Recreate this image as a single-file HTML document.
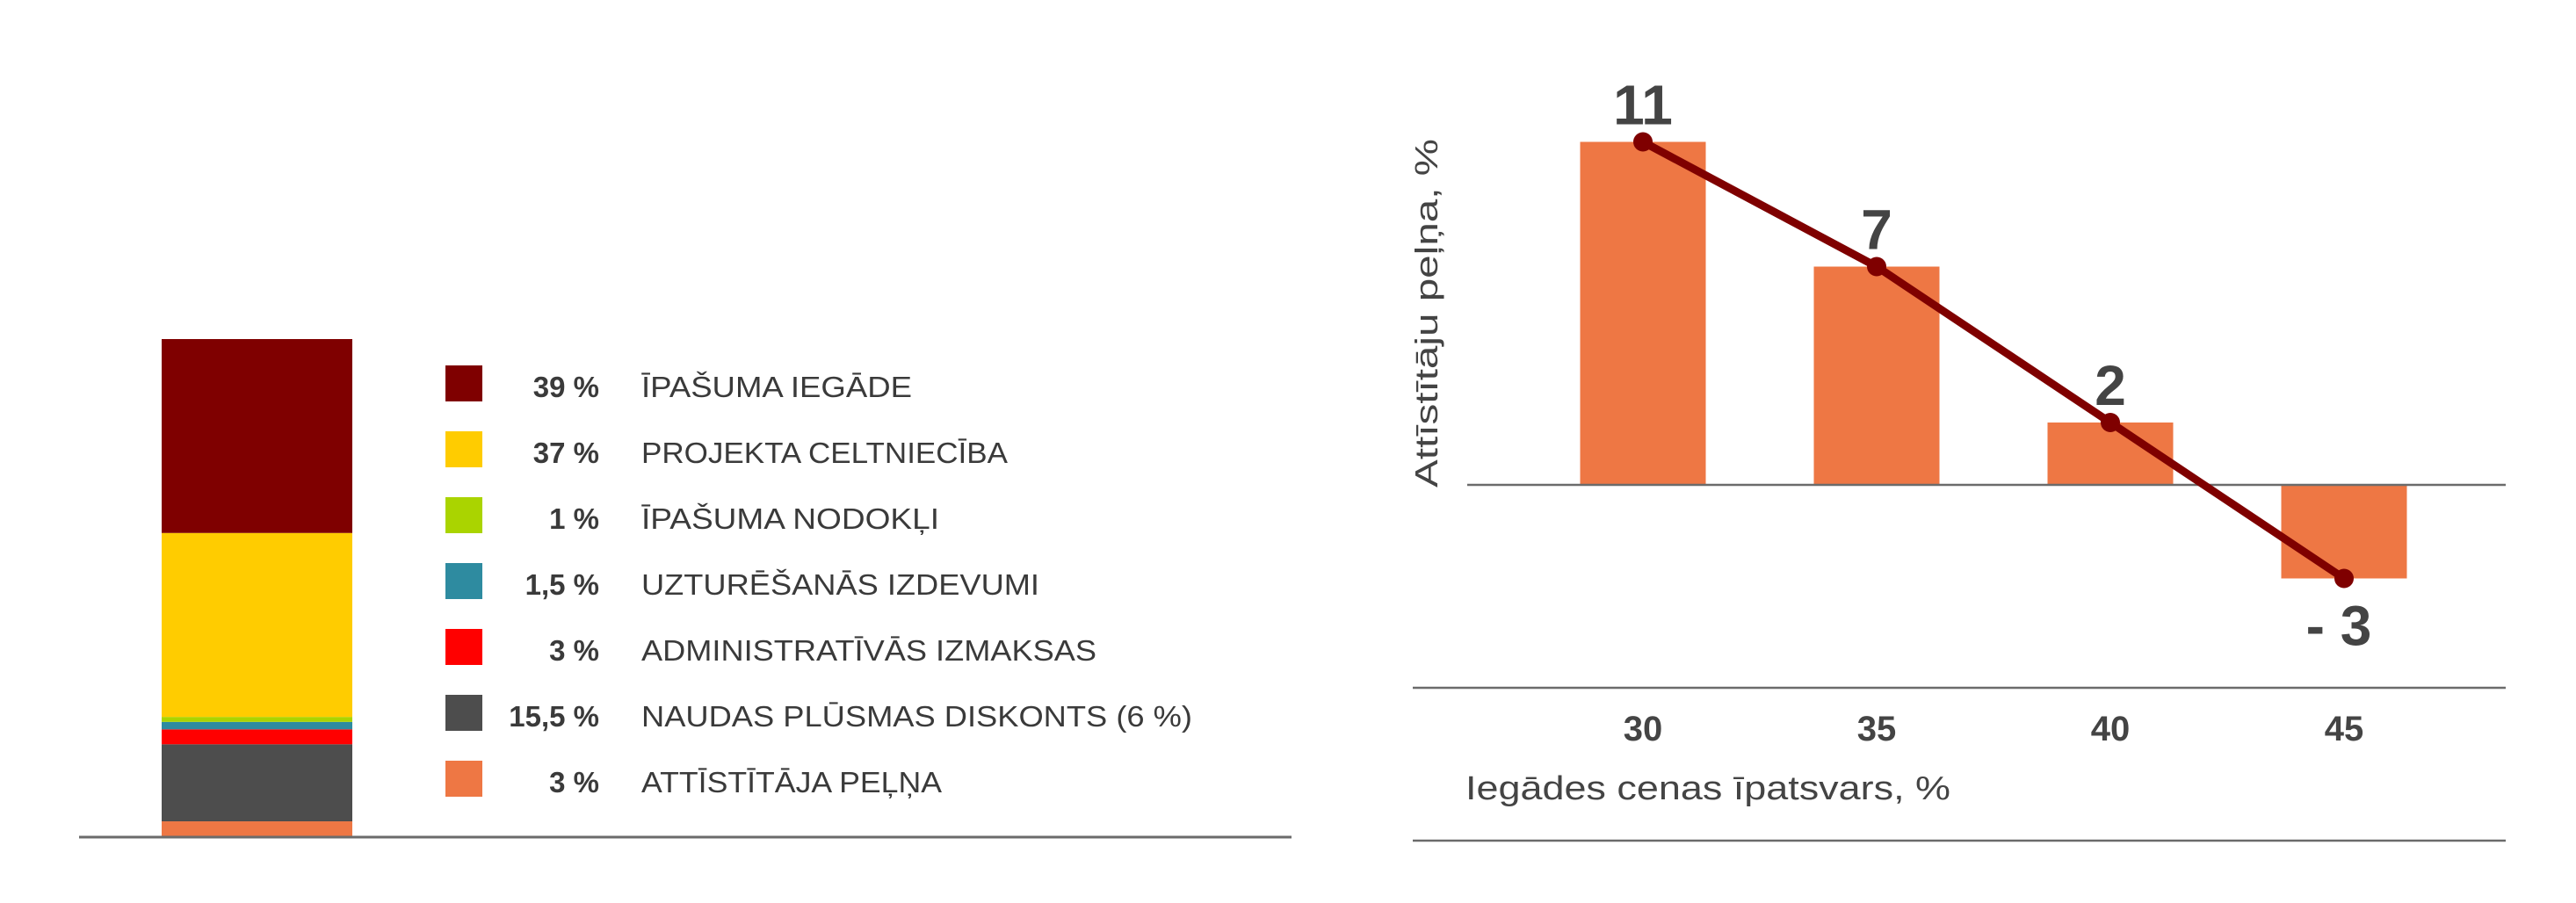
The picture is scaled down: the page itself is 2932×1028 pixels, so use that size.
<!DOCTYPE html>
<html><head><meta charset="utf-8"><style>
html,body{margin:0;padding:0;background:#fff;width:2932px;height:1028px;overflow:hidden}
svg{display:block;font-family:"Liberation Sans",sans-serif}
</style></head><body>
<svg id="c" width="2932" height="1028" viewBox="0 0 2932 1028" xmlns="http://www.w3.org/2000/svg">
<g id="left"></g>
<g id="right"></g>
</svg>
<script>
// Left stacked bar data
const costShares = [39, 37, 1, 1.5, 3, 15.5, 3];
const costPctLabels = ["39 %", "37 %", "1 %", "1,5 %", "3 %", "15,5 %", "3 %"];
const costNames = ["ĪPAŠUMA IEGĀDE", "PROJEKTA CELTNIECĪBA", "ĪPAŠUMA NODOKĻI", "UZTURĒŠANĀS IZDEVUMI", "ADMINISTRATĪVĀS IZMAKSAS", "NAUDAS PLŪSMAS DISKONTS (6 %)", "ATTĪSTĪTĀJA PEĻŅA"];
const costColors = ["#7f0000", "#ffcc00", "#aad400", "#2e8ba0", "#ff0000", "#4d4d4d", "#ee7744"];
// Right chart data
const categories = ["30", "35", "40", "45"];
const profitValues = [11, 7, 2, -3];
const profitLabels = ["11", "7", "2", "- 3"];

const NS = "http://www.w3.org/2000/svg";
function mk(parent, tag, attrs, text) {
  const e = document.createElementNS(NS, tag);
  for (const k in attrs) e.setAttribute(k, attrs[k]);
  if (text !== undefined) e.textContent = text;
  parent.appendChild(e);
  return e;
}
const L = document.getElementById('left');
const R = document.getElementById('right');

// ---- Left chart ----
const baseY = 952, pxPerPct = 5.66, barX = 184, barW = 217;
function yStack(v) { return baseY - v * pxPerPct; }
let cum = 0;
const order = [6, 5, 4, 3, 2, 1, 0]; // bottom to top
order.forEach(i => {
  const y0 = yStack(cum), y1 = yStack(cum + costShares[i]);
  const r = mk(L, 'rect', {x: barX, y: y1, width: barW, height: y0 - y1, fill: costColors[i]});
  
  
  cum += costShares[i];
});
const bl = mk(L, 'line', {x1: 90, y1: 953, x2: 1470, y2: 953, stroke: '#6b6b6b', 'stroke-width': 3});



const labelWidths = [308, 417, 339, 453, 518, 627, 342];
costNames.forEach((n, i) => {
  const top = 416 + i * 75;
  const g = mk(L, 'g', {});
  
  
  const sw = mk(g, 'rect', {x: 507, y: top, width: 42, height: 41, fill: costColors[i]});
  
  
  const p = mk(g, 'text', {x: 682, y: top + 36, 'text-anchor': 'end', 'font-size': 33, 'font-weight': 'bold', fill: '#3a3a3a'}, costPctLabels[i]);
  
  
  const t = mk(g, 'text', {x: 730, y: top + 36, 'font-size': 33, fill: '#3a3a3a', textLength: labelWidths[i], lengthAdjust: 'spacingAndGlyphs'}, n);
  
  
});

// ---- Right chart ----
const zeroY = 552, pxPerUnit = 35.5, x0 = 1870, step = 266, bw = 143;
function yV(v) { return zeroY - v * pxPerUnit; }
function xC(i) { return x0 + i * step; }
profitValues.forEach((v, i) => {
  const y = Math.min(yV(v), zeroY), h = Math.abs(yV(v) - zeroY);
  const r = mk(R, 'rect', {x: xC(i) - bw / 2, y: y, width: bw, height: h, fill: '#ee7744'});
  
  
});
const zl = mk(R, 'line', {x1: 1670, y1: zeroY, x2: 2852, y2: zeroY, stroke: '#6b6b6b', 'stroke-width': 2.5});


const pts = profitValues.map((v, i) => xC(i) + ',' + yV(v)).join(' ');
const pl = mk(R, 'polyline', {points: pts, fill: 'none', stroke: '#7f0000', 'stroke-width': 9, 'stroke-linejoin': 'round'});


profitValues.forEach((v, i) => {
  const c = mk(R, 'circle', {cx: xC(i), cy: yV(v), r: 11, fill: '#7f0000'});
  
  
  const ly = v >= 0 ? yV(v) - 20 : yV(v) + 76;
  const t = mk(R, 'text', {x: xC(i) + (v >= 0 ? 0 : -6), y: ly, 'text-anchor': 'middle', 'font-size': 64, 'font-weight': 'bold', fill: '#444'}, profitLabels[i]);
  
  
  const tk = mk(R, 'text', {x: xC(i), y: 843, 'text-anchor': 'middle', 'font-size': 40, 'font-weight': 'bold', fill: '#444'}, categories[i]);
  
  
});
const a1 = mk(R, 'line', {x1: 1608, y1: 783, x2: 2852, y2: 783, stroke: '#6b6b6b', 'stroke-width': 2.5});


const a2 = mk(R, 'line', {x1: 1608, y1: 957, x2: 2852, y2: 957, stroke: '#6b6b6b', 'stroke-width': 2.5});


const xt = mk(R, 'text', {x: 1668, y: 910, 'font-size': 38, fill: '#444', textLength: 552, lengthAdjust: 'spacingAndGlyphs'}, 'Iegādes cenas īpatsvars, %');


const yt = mk(R, 'text', {x: 0, y: 0, 'font-size': 36, fill: '#444', transform: 'translate(1636,555) rotate(-90)', textLength: 397, lengthAdjust: 'spacingAndGlyphs'}, 'Attīstītāju peļņa, %');


</script>
</body></html>
